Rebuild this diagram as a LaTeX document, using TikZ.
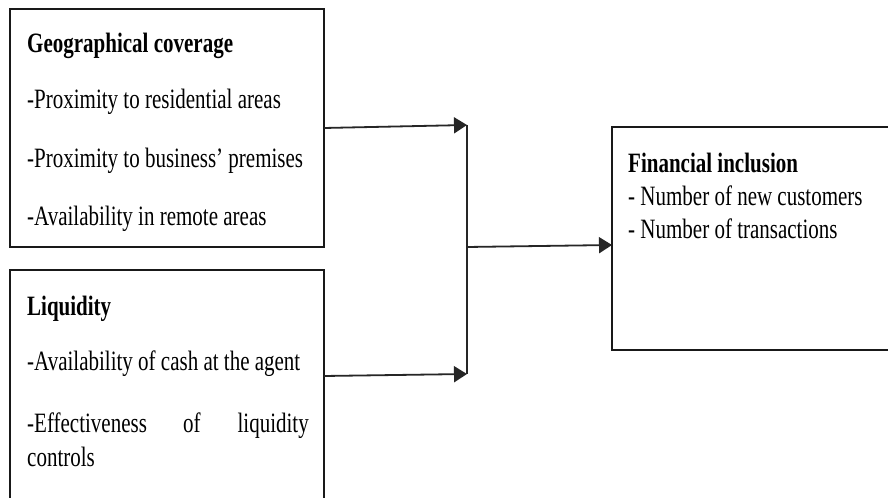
\documentclass[tikz,border=0pt]{standalone}
\usepackage{fontspec}
\setmainfont[FakeStretch=0.75]{Liberation Serif}
\usetikzlibrary{arrows.meta}
\begin{document}
\begin{tikzpicture}[x=1bp,y=-1bp,
  box/.style={draw=black!90,line width=1.3bp,rectangle,inner sep=0pt},
  txt/.style={anchor=base west,inner sep=0pt,font=\fontsize{28bp}{33bp}\selectfont},
  arr/.style={draw=black!85,line width=1.8bp,-{Triangle[length=13bp,width=16bp]}},
  ln/.style={draw=black!85,line width=1.8bp}]
\clip (0,0) rectangle (888,498);
\fill[white] (0,0) rectangle (888,498);
% boxes
\node[box,minimum width=314bp,minimum height=238bp] (geo) at (167,128) {};
\node[box,minimum width=314bp,minimum height=260bp] (liq) at (167,400) {};
\node[box,minimum width=300bp,minimum height=223bp] (fin) at (762,238.5) {};
% box 1 text
\node[txt] (g0) at (27,53) {\bfseries Geographical coverage};
\node[txt] (g1) at (27,109) {-Proximity to residential areas};
\node[txt] (g2) at (27,168) {-Proximity to business’ premises};
\node[txt] (g3) at (27,226) {-Availability in remote areas};
% box 2 text
\node[txt] (l0) at (27,316) {\bfseries Liquidity};
\node[txt] (l1) at (27,370) {-Availability of cash at the agent};
\node[txt] (l2a) at (27,432) {-Effectiveness};
\node[txt] (l2b) at (183,432) {of};
\node[txt,anchor=base east] (l2c) at (309,432) {liquidity};
\node[txt] (l3) at (27,466) {controls};
% right box text
\node[txt] (f0) at (628,173) {\bfseries Financial inclusion};
\node[txt] (f1) at (628,206) {- Number of new customers};
\node[txt] (f2) at (628,239) {- Number of transactions};
% connectors
\coordinate (s1) at (324,128);
\coordinate (s2) at (324,376);
\coordinate (j1) at (467,125);
\coordinate (j2) at (467,374);
\coordinate (jm) at (467,247);
\coordinate (t) at (612,245);
\draw[ln] (j1) -- (j2);
\draw[arr] (s1) -- (j1);
\draw[arr] (s2) -- (j2);
\draw[arr] (jm) -- (t);
\end{tikzpicture}
\end{document}
